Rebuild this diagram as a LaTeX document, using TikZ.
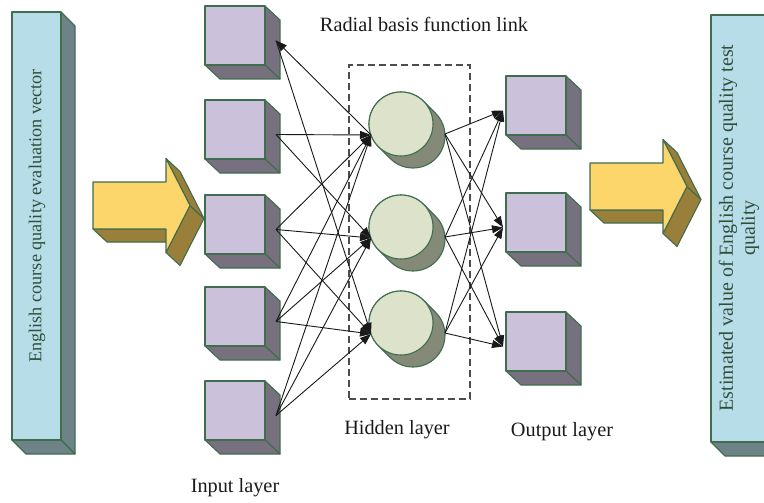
\documentclass[tikz,border=0pt]{standalone}
\usepackage{fontspec}
\setmainfont{Liberation Serif}
\usetikzlibrary{arrows.meta}
\definecolor{outl}{HTML}{3F6D4E}
\definecolor{barfront}{HTML}{B7DDE8}
\definecolor{barside}{HTML}{6E8387}
\definecolor{cubefront}{HTML}{CCC1DA}
\definecolor{cubeside}{HTML}{77707F}
\definecolor{neufront}{HTML}{DDE3CB}
\definecolor{neushadow}{HTML}{858A78}
\definecolor{arrfront}{HTML}{FCD66A}
\definecolor{arrside}{HTML}{9A7F3A}
\definecolor{bartext}{HTML}{2F4F3A}
\definecolor{labeltext}{HTML}{1A1A1A}
\tikzset{
  shapeline/.style={draw=outl, line width=1.1pt, line join=round},
  cubefrontst/.style={shapeline, fill=cubefront, rectangle, minimum width=60pt, minimum height=59pt, inner sep=0pt},
  neufrontst/.style={shapeline, fill=neufront, circle, minimum size=64pt, inner sep=0pt},
  barfrontst/.style={shapeline, fill=barfront, rectangle, inner sep=0pt},
  conn/.style={draw=black!90, line width=0.9pt, -{Triangle[length=11pt,width=8pt]}},
  lbl/.style={text=labeltext, font=\fontsize{20.3}{23}\selectfont, inner sep=0pt},
  cube/.pic={
    \fill[cubeside, shapeline] (30,-29.5) -- (45,-15.5) -- (45,43.5) -- (30,29.5) -- cycle;
    \fill[cubeside, shapeline] (-30,29.5) -- (30,29.5) -- (45,43.5) -- (-15,43.5) -- cycle;
    \node[cubefrontst] (-front) at (0,0) {};
    \coordinate (-r) at (41,5);
    \coordinate (-l) at (-33,5);
  },
  neuron/.pic={
    \fill[neushadow, shapeline] (135:32) -- ++(12,12) arc[start angle=135, end angle=-45, radius=32]
      -- (-45:32) arc[start angle=-45, end angle=-225, radius=32] -- cycle;
    \node[neufrontst] (-front) at (0,0) {};
    \coordinate (-l) at (-30,11);
    \coordinate (-r) at (44,10);
  },
  bigarrow/.pic={
    \fill[arrside, shapeline] (0,23.5) -- (73,23.5) -- (87,36.5) -- (14,36.5) -- cycle;
    \fill[arrside, shapeline] (97,0) -- (73,47) -- (87,60) -- (111,13) -- cycle;
    \fill[arrside, shapeline] (73,-47) -- (97,0) -- (111,13) -- (87,-34) -- cycle;
    \fill[arrfront, shapeline] (0,-23.5) -- (73,-23.5) -- (73,-47) -- (97,0) -- (73,47) -- (73,23.5) -- (0,23.5) -- cycle;
  }
}
\begin{document}
\begin{tikzpicture}[x=1pt, y=-1pt]
\useasboundingbox (0,0) rectangle (764,503);
\clip (0,0) rectangle (764,503);

% left bar
\fill[barside, shapeline] (61,12) -- (75,26) -- (75,454) -- (61,440) -- cycle;
\fill[barside, shapeline] (12,440) -- (61,440) -- (75,454) -- (26,454) -- cycle;
\node[barfrontst, minimum width=49pt, minimum height=428pt] (lbar) at (36.5,226) {};
\node[text=bartext, font=\fontsize{18.2}{21}\selectfont, rotate=90, inner sep=0pt] (lbartext) at (37,216) {English course quality evaluation vector};

% right bar
\fill[barside, shapeline] (775,15) -- (789,29) -- (789,456) -- (775,442) -- cycle;
\fill[barside, shapeline] (711,442) -- (775,442) -- (789,456) -- (725,456) -- cycle;
\node[barfrontst, minimum width=64pt, minimum height=427pt] (rbar) at (743,228.5) {};
\node[text=bartext, font=\fontsize{20}{22}\selectfont, rotate=90, align=center, inner sep=0pt] (rbartext) at (739,228) {Estimated value of English course quality test\\quality};

% big arrows
\pic (larrow) at (93,205.5) {bigarrow};
\pic (rarrow) at (590,186.5) {bigarrow};

% dashed box
\node[draw=black!70, dash pattern=on 7pt off 4pt, line width=1.2pt, minimum width=121pt, minimum height=334pt, inner sep=0pt] (hbox) at (409.5,232) {};

% input cubes
\pic (in1) at (235,35.5) {cube};
\pic (in2) at (235,129.5) {cube};
\pic (in3) at (235,224.5) {cube};
\pic (in4) at (235,316.5) {cube};
\pic (in5) at (235,410.5) {cube};

% output cubes
\pic (out1) at (536,105.5) {cube};
\pic (out2) at (536,222.5) {cube};
\pic (out3) at (536,341.5) {cube};

% hidden neurons
\pic (h1) at (401,124) {neuron};
\pic (h2) at (401,227) {neuron};
\pic (h3) at (401,323) {neuron};

% connectors input -> hidden
\draw[conn] (h1-l) -- (in1-r);
\draw[conn] (in1-r) -- (h3-l);
\draw[conn] (in2-r) -- (h1-l);
\draw[conn] (in2-r) -- (h2-l);
\foreach \i in {3,4,5}{
  \foreach \j in {1,2,3}{
    \draw[conn] (in\i-r) -- (h\j-l);
  }
}
% connectors hidden -> output
\foreach \j in {1,2,3}{
  \foreach \k in {1,2,3}{
    \draw[conn] (h\j-r) -- (out\k-l);
  }
}

% labels
\node[lbl] (title) at (424,24) {Radial basis function link};
\node[lbl] (hidlbl) at (397,430) {Hidden layer};
\node[lbl] (inlbl) at (235,488) {Input layer};
\node[lbl] (outlbl) at (562,432) {Output layer};
\end{tikzpicture}
\end{document}
